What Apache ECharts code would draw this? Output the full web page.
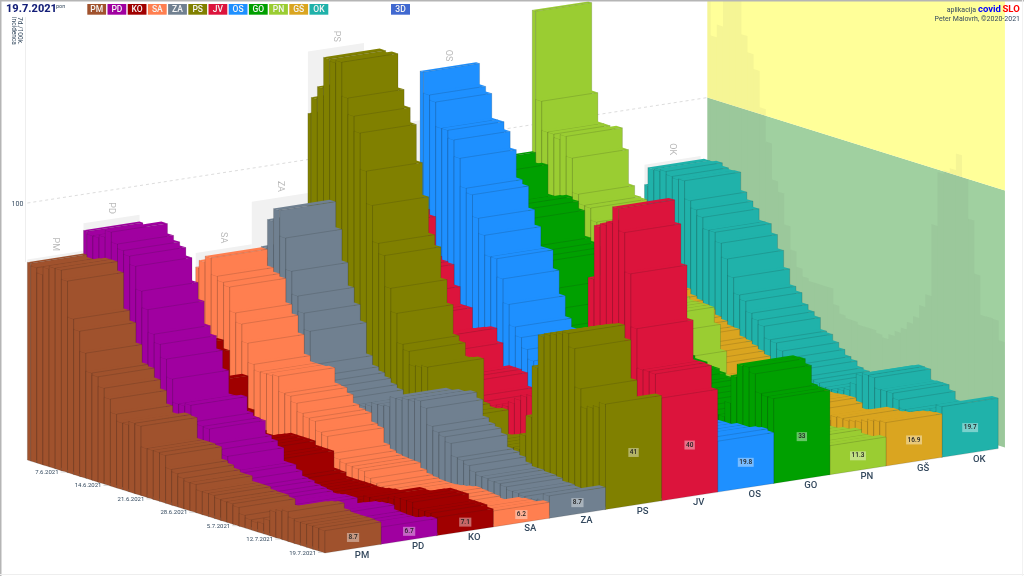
<!DOCTYPE html>
<html>
<head>
<meta charset="utf-8">
<style>
html, body { margin: 0; padding: 0; background: #fff; }
#chart { width: 1024px; height: 576px; }
</style>
<script src="https://cdn.jsdelivr.net/npm/echarts@6/dist/echarts.min.js"></script>
</head>
<body>
<div id="chart"></div>
<script>
// regions, front to back
const parties = ['PM', 'PD', 'KO', 'SA', 'ZA', 'PS', 'JV', 'OS', 'GO', 'PN', 'GŠ', 'OK']
const partyColors = ['#A0522D', '#A000A0', '#A00000', '#FF7F50', '#708090', '#808000', '#DC143C', '#1E90FF', '#00A000', '#9ACD32', '#DAA520', '#20B2AA']

// 7 day incidence per 100k, 1.6.2021 -> 19.7.2021
const PM = [77, 76, 74, 77, 78, 78, 74.5, 60.5, 56.5, 48.7, 41.7, 41, 37.3, 33.8, 28.7, 26, 26, 27.4, 27, 19, 19, 19, 18.6, 13.9, 13, 11.9, 11, 11, 9, 9, 9, 8.2, 8, 8, 7.3, 5, 4, 3.6, 4, 6, 10, 11, 11.6, 9.6, 9, 9, 9, 9, 8.7]
const PD = [86, 85, 85, 86, 88.7, 84.8, 83, 81.6, 78.4, 69.5, 63, 54.2, 51, 46, 39, 30, 30, 31, 25.5, 24.3, 24, 18.8, 17.6, 15.6, 10.5, 10.5, 8.9, 6.9, 6.5, 5.6, 5.2, 4.8, 4.2, 4.5, 5, 5, 3, 4, 5, 6, 6.5, 6.7, 5, 4.8, 4.6, 4.6, 5, 6, 6.7]
const KO = [32, 34, 36, 38, 40, 36.7, 25, 25, 29, 16.6, 14, 10, 9, 8.7, 10, 11, 12, 12, 12, 11.9, 10.4, 10.3, 10.3, 3.7, 3.5, 2, 2, 2, 2, 2, 1.8, 2, 2.6, 3, 3, 3, 4, 6.6, 6.5, 5.9, 7, 9, 10, 10, 10, 8, 8, 8, 7.1]
const SA = [65, 68, 70.4, 64, 62.4, 61.3, 52, 48.4, 41.7, 34.2, 32, 32, 32, 32.5, 26.7, 26.3, 24.3, 21.1, 20, 19.5, 16, 15.1, 9.3, 7.7, 6.8, 6.4, 6.2, 6, 4, 2.8, 2.3, 1.9, 1.8, 1.8, 2, 2.5, 3, 3.6, 3.3, 3, 2.7, 2, 2, 3, 4.5, 5, 5, 5, 6.2]
const ZA = [60, 65, 70.8, 82, 87, 77, 64.8, 55.9, 50, 43.7, 31.6, 28, 26.5, 25, 23.3, 22, 20, 20, 21, 22, 23.4, 23.5, 24, 28, 28, 29, 29, 30, 27.9, 21.6, 20, 19, 17.2, 12.5, 12, 10.8, 9, 8, 8, 7.5, 7.5, 7, 6, 6, 5.5, 5, 5.5, 6, 8.7]
const PS = [118, 124.6, 129.6, 141.7, 141, 142, 128.8, 122.5, 116.7, 102.6, 90, 76, 72, 60, 51, 39.7, 37.7, 32.6, 33, 33.8, 17, 16, 16, 16.8, 7.5, 8, 9, 10, 10, 11, 11, 12, 12, 13, 13, 19, 27, 47, 59.8, 61, 62, 63, 64, 58.9, 44, 37, 38, 39, 41]
const JV = [75, 75, 73, 58.2, 57, 56.6, 48.7, 42, 42, 34, 35, 36, 37, 32, 22, 24, 24, 23.4, 18.3, 17, 16, 16, 17, 18, 20, 22, 24, 25, 26, 28, 30, 32, 34, 37, 40, 45, 50, 78, 99, 100.5, 102, 108.5, 99.9, 84.6, 64, 48.7, 48.8, 48.6, 40]
const OS = [127.7, 119.5, 117.5, 108, 108, 105, 98.6, 87.7, 85.9, 77.5, 71.6, 64, 64, 56.9, 47.7, 39.7, 36.3, 32.4, 28.7, 27, 26, 25, 24, 23, 22, 21, 20, 19, 18, 18, 17, 17, 17, 17, 17, 17, 18, 18, 18, 18, 18, 18, 18, 19, 19, 19, 20, 20.5, 19.8]
const GO = [89.7, 85.7, 86.4, 75, 75, 76, 76.9, 75.9, 73.1, 63.2, 62, 61, 60, 50, 43, 36.8, 36, 35, 34, 33, 33, 32, 32, 31, 31, 30, 30, 29, 29, 28, 28, 27, 26, 26, 25, 24, 23, 22, 21, 20, 20, 26, 36.9, 42, 42.2, 40.4, 33.5, 33, 33]
const PN = [144.6, 110.3, 99, 99, 97.7, 99.6, 91.9, 78.6, 75, 74.7, 70, 63, 58, 52, 48, 45, 42, 41, 41, 41, 41, 35, 25.4, 16.4, 15, 12.5, 11, 11, 11, 10, 10, 9, 9, 9, 9, 9, 8, 8, 9, 9, 9, 9, 10, 10, 11.2, 10, 10, 10, 11.3]
const GS = [44, 43, 42, 41, 40, 38, 36, 35, 33, 32, 31, 30, 28, 27, 25.6, 25.3, 22.8, 22.2, 21, 19.8, 18.6, 15, 15, 14, 14, 13, 13, 12, 12, 11.8, 12, 12, 12.3, 12.6, 12.7, 11.5, 9.5, 9.8, 10, 11, 13, 13.3, 13, 13.5, 14, 15, 16, 16.5, 16.9]
const OK = [70, 77, 77, 77.7, 76.5, 76, 76.3, 69.3, 66.5, 64.3, 60, 60, 56.5, 51.1, 44.6, 38.6, 36.9, 33, 31, 29.4, 24.9, 24.4, 22, 20, 18, 17, 15.1, 14.5, 14, 13, 13, 13, 14, 15, 18, 22, 23, 22.8, 18.8, 19, 19, 17.1, 14, 14, 14, 15, 16, 17, 19.7]
const allValues = [PM, PD, KO, SA, ZA, PS, JV, OS, GO, PN, GS, OK]

const dateLabels = ['7.6.2021', '14.6.2021', '21.6.2021', '28.6.2021', '5.7.2021', '12.7.2021', '19.7.2021']
const dateLabelDaysBack = [42, 35, 28, 21, 14, 7, 0]
const yTicks = [100]

// oblique projection: one day back and one column across, in px
const DAY_DX = 6.13
const DAY_DY = 1.915
const COL_DY = 8.7
const DAYS = PM.length
const BACK = 48.55 // the oldest bar is only half a day deep
const WALL_COL = 12.12
const INK = '#34495e'
const FONT = 'Roboto, sans-serif'

function project (api, col, back, val) {
  const p = api.coord([col, val])
  return [p[0] - back * DAY_DX, p[1] - col * COL_DY - back * DAY_DY]
}

function poly (points, fill, stroke, width) {
  return {
    type: 'polygon',
    shape: { points: points },
    style: { fill: fill, stroke: stroke || null, lineWidth: width || 0 },
    silent: true
  }
}

// one box per day, drawn back to front
function renderBar (params, api) {
  const c = api.value(0)
  const n = api.value(1)
  const v = api.value(2)
  const m = Math.min(n + 1, BACK)
  const fill = partyColors[c]
  const line = 'rgba(30,30,30,.3)'
  return {
    type: 'group',
    children: [
      poly([project(api, c, n, 0), project(api, c, m, 0), project(api, c, m, v), project(api, c, n, v)], fill, line, 0.5),
      poly([project(api, c, n, v), project(api, c, m, v), project(api, c + 1, m, v), project(api, c + 1, n, v)], fill),
      poly([project(api, c, n, 0), project(api, c + 1, n, 0), project(api, c + 1, n, v), project(api, c, n, v)], fill, line, 0.5)
    ]
  }
}

const barSeries = []
for (let c = parties.length - 1; c >= 0; c--) {
  barSeries.push({
    type: 'custom',
    name: parties[c],
    animation: false,
    silent: true,
    renderItem: renderBar,
    encode: { x: 0, y: 2 },
    data: allValues[c].map((v, i) => [c, DAYS - 1 - i, v])
  })
}

// side wall: below 100 green, above yellow
const wallSeries = {
  type: 'custom',
  animation: false,
  silent: true,
  encode: { x: 0, y: 1 },
  data: [[WALL_COL, 0, 100, '#A0D0A0'], [WALL_COL, 100, 260, '#FFFF99']],
  renderItem: (params, api) => {
    const from = api.value(1)
    const to = api.value(2)
    const fill = api.value(3)
    return poly([
      project(api, WALL_COL, 0, from), project(api, WALL_COL, BACK, from),
      project(api, WALL_COL, BACK, to), project(api, WALL_COL, 0, to)
    ], fill)
  }
}

// silhouette of the highest region on each day
const shadowSeries = {
  type: 'custom',
  animation: false,
  silent: true,
  encode: { x: 0, y: 2 },
  data: PM.map((_, i) => [WALL_COL, DAYS - 1 - i, Math.max(...allValues.map(a => a[i]))]),
  renderItem: (params, api) => {
    const n = api.value(1)
    const v = api.value(2)
    const m = Math.min(n + 1, BACK)
    return poly([
      project(api, WALL_COL, n, 0), project(api, WALL_COL, m, 0),
      project(api, WALL_COL, m, v), project(api, WALL_COL, n, v)
    ], 'rgba(90,90,90,.06)')
  }
}

// dashed level line on the back plane
const levelSeries = {
  type: 'custom',
  animation: false,
  silent: true,
  encode: { x: 0, y: 1 },
  data: yTicks.map(t => [0, t]),
  renderItem: (params, api) => {
    const t = api.value(1)
    const a = project(api, 0, BACK, t)
    const b = project(api, WALL_COL, BACK, t)
    return {
      type: 'group',
      children: [
        {
          type: 'line',
          shape: { x1: a[0], y1: a[1], x2: b[0], y2: b[1] },
          style: { stroke: '#ddd', lineWidth: 1, lineDash: [3, 3] }
        },
        {
          type: 'text',
          style: { text: String(t), x: a[0] - 4, y: a[1] + 1, align: 'right', verticalAlign: 'middle', font: '7px ' + FONT, fill: INK }
        }
      ]
    }
  }
}

// grey plate behind every region, as high as its maximum, name on top
const plateSeries = {
  type: 'custom',
  animation: false,
  silent: true,
  encode: { x: 0, y: 1 },
  data: parties.map((p, c) => [c, Math.max(...allValues[c])]).reverse(),
  renderItem: (params, api) => {
    const c = api.value(0)
    const v = api.value(1)
    const mid = project(api, c + 0.5, BACK, v)
    return {
      type: 'group',
      children: [
        poly([project(api, c, BACK, 0), project(api, c + 1, BACK, 0), project(api, c + 1, BACK, v), project(api, c, BACK, v)], '#f1f1f1'),
        {
          type: 'text',
          x: mid[0],
          y: mid[1] - 11,
          rotation: -Math.PI / 2,
          style: { text: parties[c], x: 0, y: 0, align: 'center', verticalAlign: 'middle', font: '9px ' + FONT, fill: '#b9b9b9' }
        }
      ]
    }
  }
}

// last value on the front face and region name below it
const frontLabelSeries = {
  type: 'custom',
  animation: false,
  silent: true,
  encode: { x: 0, y: 1 },
  data: parties.map((p, c) => [c, allValues[c][DAYS - 1]]),
  renderItem: (params, api) => {
    const c = api.value(0)
    const v = api.value(1)
    const mid = project(api, c + 0.5, 0, v / 2)
    const foot = project(api, c + 0.5, 0, 0)
    return {
      type: 'group',
      children: [
        {
          type: 'text',
          style: {
            text: String(v),
            x: mid[0],
            y: mid[1],
            align: 'center',
            verticalAlign: 'middle',
            font: '500 6.5px ' + FONT,
            fill: '#222',
            backgroundColor: 'rgba(255,255,255,.4)',
            padding: [1, 1.5]
          }
        },
        {
          type: 'text',
          style: {
            text: parties[c],
            x: foot[0] + 9,
            y: foot[1] + 6.5,
            align: 'center',
            verticalAlign: 'middle',
            font: '500 9.5px ' + FONT,
            fill: INK
          }
        }
      ]
    }
  }
}

// date labels along the left floor edge
const dateSeries = {
  type: 'custom',
  animation: false,
  silent: true,
  encode: { x: 0, y: 1 },
  data: dateLabels.map((d, i) => [0, dateLabelDaysBack[i]]),
  renderItem: (params, api) => {
    const n = api.value(1)
    const p = project(api, 0, n, 0)
    return {
      type: 'group',
      children: [
        {
          type: 'line',
          shape: { x1: p[0] - 7, y1: p[1] - 0.5, x2: p[0] - 2, y2: p[1] - 0.5 },
          style: { stroke: '#ccc', lineWidth: 0.7 }
        },
        {
          type: 'text',
          style: {
            text: dateLabels[params.dataIndex],
            x: p[0] - 9,
            y: p[1],
            align: 'right',
            verticalAlign: 'middle',
            font: '6px ' + FONT,
            fill: INK
          }
        }
      ]
    }
  }
}

// header chips
const headerItems = parties.map((p, i) => ({
  type: 'group',
  x: 87.3 + i * 20.2,
  y: 4,
  children: [
    { type: 'rect', shape: { width: 18.8, height: 10.7 }, style: { fill: partyColors[i] } },
    { type: 'text', style: { text: p, x: 9.4, y: 5.6, align: 'center', verticalAlign: 'middle', font: '500 8.5px ' + FONT, fill: '#f4f4f4' } }
  ]
}))

const chart = echarts.init(document.getElementById('chart'))
chart.setOption({
  animation: false,
  backgroundColor: '#fff',
  grid: { left: 325, right: 25.8, top: 39, bottom: 23 },
  xAxis: { type: 'value', min: 0, max: 12, show: false },
  yAxis: { type: 'value', min: 0, max: 200, show: false },
  series: [wallSeries, shadowSeries, levelSeries, plateSeries, ...barSeries, frontLabelSeries, dateSeries],
  graphic: [
    ...headerItems,
    { type: 'rect', x: 391, y: 4, shape: { width: 19, height: 10.7 }, style: { fill: '#4169D0' }, z: 50 },
    { type: 'text', x: 400.5, y: 9.6, style: { text: '3D', align: 'center', verticalAlign: 'middle', font: '500 8.5px ' + FONT, fill: '#f4f4f4' }, z: 51 },
    { type: 'text', x: 6, y: 9.5, style: { text: '19.7.2021', verticalAlign: 'middle', font: '800 11px ' + FONT, fill: '#141f78' }, z: 50 },
    { type: 'text', x: 56, y: 7, style: { text: 'pon', verticalAlign: 'middle', font: '5.5px ' + FONT, fill: INK }, z: 50 },
    { type: 'line', shape: { x1: 25.5, y1: 17, x2: 25.5, y2: 262 }, style: { stroke: '#eee', lineWidth: 1 }, z: 1 },
    { type: 'text', x: 20, y: 17, rotation: -Math.PI / 2, style: { text: '7d./100k.', verticalAlign: 'middle', font: '6.5px ' + FONT, fill: INK }, z: 50 },
    { type: 'text', x: 13.5, y: 17, rotation: -Math.PI / 2, style: { text: 'incidenca', verticalAlign: 'middle', font: '6.5px ' + FONT, fill: INK }, z: 50 },
    { type: 'text', x: 976, y: 10, style: { text: 'aplikacija', align: 'right', verticalAlign: 'middle', font: '7px ' + FONT, fill: INK }, z: 50 },
    { type: 'text', x: 978, y: 9.5, style: { text: 'covid', verticalAlign: 'middle', font: '700 9.5px ' + FONT, fill: '#0000ff' }, z: 50 },
    { type: 'text', x: 1002.5, y: 9.5, style: { text: 'SLO', verticalAlign: 'middle', font: '700 9.5px ' + FONT, fill: '#ff0000' }, z: 50 },
    { type: 'text', x: 1020, y: 19, style: { text: 'Peter Malovrh, ©2020-2021', align: 'right', verticalAlign: 'middle', font: '7px ' + FONT, fill: INK }, z: 50 },
    { type: 'line', shape: { x1: 0, y1: 0.5, x2: 1024, y2: 0.5 }, style: { stroke: '#b5b5b5', lineWidth: 2 }, z: 60 },
    { type: 'line', shape: { x1: 0.5, y1: 0, x2: 0.5, y2: 576 }, style: { stroke: '#b5b5b5', lineWidth: 2 }, z: 60 },
    { type: 'line', shape: { x1: 0, y1: 574.5, x2: 1024, y2: 574.5 }, style: { stroke: '#eee', lineWidth: 1 }, z: 60 },
    { type: 'line', shape: { x1: 1022.5, y1: 0, x2: 1022.5, y2: 576 }, style: { stroke: '#f2f2f2', lineWidth: 1 }, z: 60 }
  ]
})
</script>
</body>
</html>
